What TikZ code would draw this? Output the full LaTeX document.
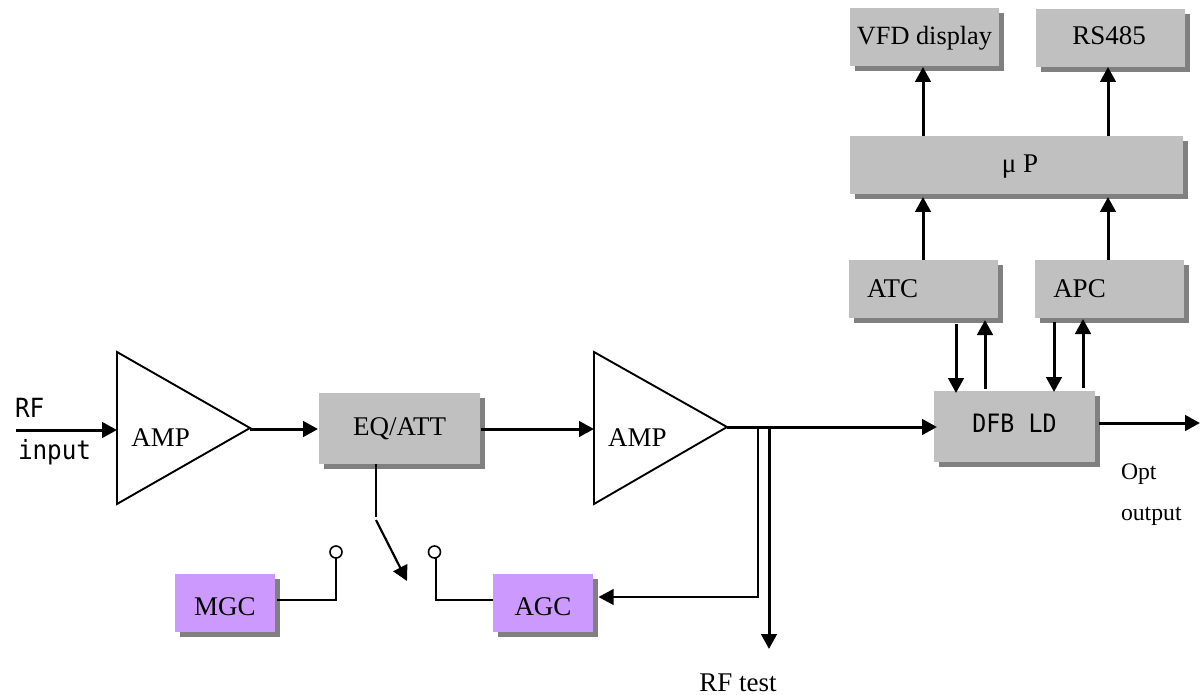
\documentclass[tikz,border=0pt]{standalone}
\usepackage{fontspec}
\setmainfont{Liberation Serif}
\setmonofont[FakeStretch=0.92]{DejaVu Sans Mono}
\usetikzlibrary{arrows.meta,shadows,calc}
\definecolor{boxgray}{HTML}{C0C0C0}
\definecolor{shadowgray}{HTML}{808080}
\definecolor{boxpurple}{HTML}{CC99FF}
% #1 horizontal offset from the box centre, #2 baseline drop, #3 text
\newcommand\boxtext[3]{\smash{\raisebox{-#2pt}[0pt][0pt]{\makebox[0pt][c]{\hspace{#1pt}\hspace{#1pt}#3}}}}
\tikzset{
  blockbase/.style={rectangle,inner sep=0pt,outer sep=0pt,text depth=0pt,text height=0pt,
    font=\fontsize{27}{27}\selectfont,
    copy shadow={shadow xshift=5pt,shadow yshift=-5pt,fill=shadowgray,draw=none}},
  graybox/.style={blockbase,fill=boxgray},
  purplebox/.style={blockbase,fill=boxpurple},
  freetext/.style={inner sep=0pt,outer sep=0pt,anchor=base west,font=\fontsize{27}{27}\selectfont},
  monotext/.style={freetext,font=\fontsize{26.4}{26}\selectfont\ttfamily},
  smalltext/.style={freetext,font=\fontsize{23.7}{24}\selectfont},
  thick arrow/.style={line width=3pt,-{Triangle[length=15pt,width=15.5pt]}},
  thin arrow/.style={line width=2.2pt,-{Triangle[length=15pt,width=15.5pt]}},
  wire/.style={line width=2pt},
  amp/.style={line width=1.9pt,line join=miter},
  contact/.style={circle,draw,line width=1.6pt,fill=white,minimum size=12pt,inner sep=0pt,outer sep=0pt},
}
\begin{document}
\begin{tikzpicture}[x=1pt,y=-1pt]
\useasboundingbox (0,0) rectangle (1202,695);
% blocks
\node[graybox,minimum width=149pt,minimum height=58pt] (vfd) at (924.5,37) {\boxtext{0}{8}{\fontsize{26.3}{26}\selectfont VFD display}};
\node[graybox,minimum width=149pt,minimum height=58pt] (rs) at (1110.5,38) {\boxtext{-1.5}{7}{RS485}};
\node[graybox,minimum width=333pt,minimum height=58pt] (mup) at (1016.5,165) {\boxtext{3.5}{8}{μ P}};
\node[graybox,minimum width=149pt,minimum height=58pt] (atc) at (923.5,289) {\boxtext{-31}{8}{ATC}};
\node[graybox,minimum width=149pt,minimum height=58pt] (apc) at (1109.5,289) {\boxtext{-30}{8}{APC}};
\node[graybox,minimum width=161pt,minimum height=71pt] (dfb) at (1014.5,426.5) {\boxtext{0}{5.5}{\fontsize{25.3}{25}\selectfont\ttfamily DFB LD}};
\node[graybox,minimum width=161pt,minimum height=71pt] (eq) at (399.5,428.5) {\boxtext{0}{6.5}{EQ/ATT}};
\node[purplebox,minimum width=100pt,minimum height=58pt] (mgc) at (225,603) {\boxtext{0}{12.5}{MGC}};
\node[purplebox,minimum width=100pt,minimum height=58pt] (agc) at (543,603) {\boxtext{0}{12.5}{AGC}};
% amplifiers
\coordinate (ampAtop) at (117,352);
\coordinate (ampAbot) at (117,504);
\coordinate (ampAtip) at (250,428);
\coordinate (ampBtop) at (594,352);
\coordinate (ampBbot) at (594,504);
\coordinate (ampBtip) at (727,427);
\draw[amp] (ampAtop) -- (ampAtip) -- (ampAbot) -- cycle;
\draw[amp] (ampBtop) -- (ampBtip) -- (ampBbot) -- cycle;
\node[freetext,anchor=base] (ampAtext) at (160.7,446.7) {AMP};
\node[freetext,anchor=base] (ampBtext) at (637.3,446.7) {AMP};
% free ends
\coordinate (rfstart) at (16,430);
\coordinate (rfend) at (117,430);
\coordinate (optend) at (1200,423);
\coordinate (tap) at (769,427);
\coordinate (tapB) at (758,427);
\coordinate (tapBdown) at (758,597);
\coordinate (testend) at (769,649);
\coordinate (swA) at (376,517);
\coordinate (swB) at (376,520);
\coordinate (swTip) at (407,581);
% signal path
\draw[thick arrow] (rfstart) -- (rfend);
\draw[thick arrow] (250,429) -- ([yshift=-0.5pt,xshift=-1pt]eq.west);
\draw[thick arrow] ([xshift=1pt,yshift=-0.5pt]eq.east) -- (594,429);
\draw[thick arrow] (ampBtip) -- ([xshift=3pt]dfb.west |- ampBtip);
\draw[thick arrow] ([xshift=4pt,yshift=3.5pt]dfb.east) -- (optend);
% test and AGC tap
\draw[thick arrow] (tap) -- (testend);
\draw[thin arrow] (tapB) -- (tapBdown) -- ([xshift=5.5pt,yshift=6pt]agc.east);
% switch
\node[contact] (cmgc) at (336,552) {};
\node[contact] (cagc) at (434.5,552) {};
\draw[thin arrow,-] (eq.south -| swA) -- (swA);
\draw[thin arrow] (swB) -- (swTip);
\draw[wire] ([yshift=3pt,xshift=2pt]mgc.east) -| (cmgc.south);
\draw[wire] ([yshift=3pt]agc.west) -| ([xshift=1.5pt]cagc.south);
% upper block arrows
\draw[thick arrow] ([xshift=-1.5pt]vfd.south |- mup.north) -- ([xshift=-1.5pt,yshift=-1pt]vfd.south);
\draw[thick arrow] ([xshift=-2.5pt]rs.south |- mup.north) -- ([xshift=-2.5pt]rs.south);
\draw[thick arrow] ([xshift=-0.5pt]atc.north) -- ([xshift=-0.5pt,yshift=-3pt]atc.north |- mup.south);
\draw[thick arrow] ([xshift=-1.5pt]apc.north) -- ([xshift=-1.5pt,yshift=-3pt]apc.north |- mup.south);
% ATC/APC to laser
\draw[thick arrow] ([xshift=32.5pt,yshift=-6pt]atc.south) -- ([xshift=-58.5pt,yshift=-2pt]dfb.north);
\draw[thick arrow] ([xshift=-29.5pt,yshift=2pt]dfb.north) -- ([xshift=61.5pt,yshift=-2pt]atc.south);
\draw[thick arrow] ([xshift=-55.5pt,yshift=-4pt]apc.south) -- ([xshift=39.5pt,yshift=-1pt]dfb.north);
\draw[thick arrow] ([xshift=68.5pt,yshift=3pt]dfb.north) -- ([xshift=-26.5pt,yshift=-1pt]apc.south);
% labels
\node[monotext] (rflab) at (15,417.7) {RF};
\node[monotext] (inlab) at (18,459) {input};
\node[smalltext] (optlab) at (1121,479) {Opt};
\node[smalltext] (outlab) at (1121,520) {output};
\node[freetext,anchor=base] (testlab) at (738,691.7) {RF test};
\end{tikzpicture}
\end{document}
